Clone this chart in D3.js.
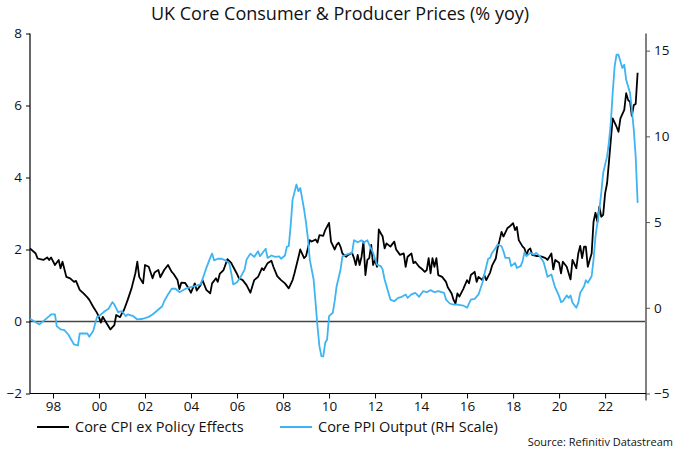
<!DOCTYPE html>
<html>
<head>
<meta charset="utf-8">
<script src="https://cdn.jsdelivr.net/npm/d3@7"></script>
<style>
  html, body { margin: 0; padding: 0; background: #fff; }
  svg { display: block; }
  text { font-family: "Open Sans", "DejaVu Sans", sans-serif; }
</style>
</head>
<body>
<svg id="chart" width="680" height="453"></svg>
<script>
const title = "UK Core Consumer & Producer Prices (% yoy)";
const seriesNames = ["Core CPI ex Policy Effects", "Core PPI Output (RH Scale)"];
const sourceText = "Source: Refinitiv Datastream";

const leftTicks = [-2, 0, 2, 4, 6, 8];
const rightTicks = [-5, 0, 5, 10, 15];
const xTickYears = [1998, 2000, 2002, 2004, 2006, 2008, 2010, 2012, 2014, 2016, 2018, 2020, 2022];
const xTickLabels = ["98", "00", "02", "04", "06", "08", "10", "12", "14", "16", "18", "20", "22"];

const cpiDates = ["1997-01","1997-04","1997-05","1997-08","1997-10","1997-11","1997-12","1998-02","1998-04","1998-05","1998-06","1998-08","1998-10","1998-12","1999-01","1999-03","1999-05","1999-07","1999-08","1999-10","1999-12","2000-01","2000-02","2000-03","2000-05","2000-07","2000-09","2000-10","2000-12","2001-01","2001-02","2001-04","2001-06","2001-08","2001-09","2001-10","2001-12","2002-01","2002-03","2002-05","2002-06","2002-08","2002-09","2002-11","2003-01","2003-03","2003-04","2003-06","2003-07","2003-08","2003-10","2003-12","2004-01","2004-03","2004-04","2004-06","2004-07","2004-09","2004-11","2004-12","2005-02","2005-03","2005-04","2005-06","2005-08","2005-10","2005-11","2006-01","2006-02","2006-04","2006-06","2006-08","2006-10","2006-12","2007-02","2007-03","2007-05","2007-07","2007-08","2007-10","2007-12","2008-02","2008-04","2008-06","2008-07","2008-09","2008-10","2008-12","2009-01","2009-03","2009-04","2009-06","2009-07","2009-08","2009-10","2009-11","2010-01","2010-02","2010-04","2010-05","2010-06","2010-07","2010-08","2010-10","2010-11","2011-01","2011-02","2011-03","2011-04","2011-05","2011-06","2011-07","2011-08","2011-09","2011-10","2011-11","2011-12","2012-01","2012-02","2012-03","2012-04","2012-05","2012-06","2012-07","2012-09","2012-11","2012-12","2013-02","2013-04","2013-05","2013-06","2013-08","2013-09","2013-10","2013-12","2014-01","2014-02","2014-03","2014-04","2014-05","2014-06","2014-07","2014-08","2014-09","2014-10","2014-12","2015-02","2015-03","2015-05","2015-06","2015-07","2015-08","2015-09","2015-11","2016-01","2016-02","2016-03","2016-05","2016-06","2016-07","2016-09","2016-10","2016-11","2017-01","2017-02","2017-04","2017-05","2017-06","2017-07","2017-08","2017-10","2017-11","2018-01","2018-02","2018-03","2018-04","2018-06","2018-07","2018-08","2018-09","2018-10","2018-11","2019-01","2019-02","2019-04","2019-06","2019-07","2019-09","2019-10","2019-11","2020-01","2020-02","2020-03","2020-05","2020-06","2020-07","2020-08","2020-10","2020-11","2020-12","2021-01","2021-02","2021-03","2021-04","2021-05","2021-06","2021-07","2021-08","2021-09","2021-10","2021-11","2021-12","2022-01","2022-02","2022-03","2022-04","2022-05","2022-07","2022-08","2022-09","2022-11","2022-12","2023-01","2023-02","2023-03","2023-04","2023-05","2023-06"];
const cpiValues = [2.03,1.89,1.75,1.71,1.78,1.71,1.78,1.57,1.71,1.48,1.66,1.24,1.2,1.1,1.13,0.88,0.78,0.67,0.6,0.41,0.24,0.12,-0.03,0.13,-0.05,-0.22,-0.1,0.18,0.12,0.23,0.32,0.6,0.92,1.34,1.66,1.24,1.06,1.57,1.52,1.2,1.36,1.43,1.23,1.43,1.57,1.38,1.32,1.15,0.9,1.08,1.07,0.9,0.8,1.06,0.86,1.01,1.15,0.88,0.78,1.06,1.2,1.1,1.32,1.43,1.73,1.63,1.52,1.32,1.2,1.15,1.01,0.8,1.15,1.24,1.48,1.43,1.62,1.69,1.52,1.26,1.15,1.06,0.92,1.15,1.34,1.78,2.0,1.76,1.82,2.26,2.22,2.28,2.19,2.4,2.38,2.54,2.74,2.22,2.0,2.13,2.19,2.08,1.89,1.8,1.85,1.91,1.76,1.57,1.85,1.57,1.8,2.22,1.29,1.71,1.76,2.13,1.57,1.71,1.52,2.56,2.45,2.36,2.03,2.17,2.08,2.22,2.0,1.85,1.89,1.52,1.8,1.89,1.62,1.66,1.52,1.48,1.43,1.38,1.43,1.76,1.34,1.76,1.52,1.76,1.29,1.24,1.1,0.95,0.78,0.6,0.5,0.78,0.69,0.9,1.15,1.06,1.29,1.38,1.1,1.24,1.15,1.29,1.15,1.36,1.55,1.75,2.05,2.26,2.49,2.36,2.59,2.63,2.73,2.54,2.63,2.26,2.08,2.03,1.85,1.99,2.03,1.85,1.82,1.82,1.8,1.76,1.71,1.89,1.45,1.71,1.63,1.34,1.66,1.52,1.34,1.17,1.71,1.48,1.89,2.1,1.76,2.08,2.08,1.52,1.71,1.89,2.77,3.02,2.77,3.19,2.91,2.96,3.56,3.84,4.4,5.04,5.64,5.41,5.27,5.64,5.88,6.34,6.15,6.1,5.71,6.01,6.04,6.91];

const ppiDates = ["1997-01","1997-04","1997-06","1997-08","1997-11","1997-12","1998-02","1998-03","1998-05","1998-07","1998-09","1998-11","1998-12","1999-02","1999-03","1999-05","1999-07","1999-08","1999-10","1999-12","2000-01","2000-04","2000-06","2000-08","2000-09","2000-11","2001-01","2001-03","2001-04","2001-07","2001-09","2001-12","2002-03","2002-05","2002-07","2002-10","2002-11","2003-01","2003-03","2003-05","2003-07","2003-10","2003-12","2004-03","2004-06","2004-07","2004-09","2004-11","2004-12","2005-01","2005-03","2005-05","2005-07","2005-09","2005-10","2005-11","2006-01","2006-03","2006-05","2006-06","2006-08","2006-10","2006-12","2007-01","2007-03","2007-04","2007-05","2007-07","2007-09","2007-11","2007-12","2008-02","2008-03","2008-04","2008-05","2008-06","2008-08","2008-09","2008-10","2008-12","2009-01","2009-02","2009-03","2009-05","2009-06","2009-07","2009-08","2009-09","2009-10","2009-11","2009-12","2010-01","2010-03","2010-04","2010-05","2010-07","2010-08","2010-10","2011-01","2011-02","2011-04","2011-06","2011-07","2011-09","2011-10","2011-12","2012-02","2012-04","2012-05","2012-06","2012-08","2012-09","2012-11","2013-01","2013-03","2013-05","2013-06","2013-08","2013-10","2013-12","2014-02","2014-04","2014-06","2014-08","2014-10","2015-01","2015-02","2015-04","2015-06","2015-08","2015-11","2016-01","2016-03","2016-05","2016-07","2016-09","2016-10","2016-12","2017-01","2017-02","2017-04","2017-05","2017-07","2017-08","2017-09","2017-11","2017-12","2018-02","2018-03","2018-05","2018-06","2018-07","2018-08","2018-10","2018-12","2019-01","2019-03","2019-05","2019-06","2019-07","2019-09","2019-10","2019-11","2020-01","2020-02","2020-03","2020-05","2020-06","2020-07","2020-08","2020-10","2020-11","2020-12","2021-02","2021-03","2021-04","2021-06","2021-07","2021-08","2021-10","2021-11","2021-12","2022-02","2022-03","2022-04","2022-05","2022-06","2022-07","2022-08","2022-09","2022-10","2022-11","2022-12","2023-02","2023-03","2023-04","2023-05","2023-06"];
const ppiValues = [-0.64,-0.84,-0.97,-0.78,-0.49,-0.39,-0.39,-1.07,-1.26,-1.3,-1.56,-1.95,-2.14,-2.2,-1.5,-1.5,-1.5,-1.69,-1.36,-0.53,-0.49,-0.2,-0.06,0.33,0.19,-0.26,-0.2,-0.49,-0.39,-0.49,-0.68,-0.64,-0.53,-0.39,-0.2,0.09,0.38,0.78,1.11,1.11,0.91,1.1,1.17,1.26,1.36,1.65,2.33,2.91,3.16,2.77,2.86,2.86,2.77,2.58,2.04,1.36,1.49,1.81,2.23,2.81,3.16,2.97,3.3,3.01,3.3,3.44,2.91,3.05,2.97,3.0,2.86,3.05,3.55,3.6,4.76,6.31,7.19,6.8,6.99,5.73,4.95,3.98,2.81,1.65,0.29,-1.07,-2.24,-2.82,-2.84,-2.04,-1.85,-0.49,-0.29,0.4,1.26,2.2,3.0,3.1,3.2,3.94,3.82,3.94,3.79,3.94,3.69,3.2,2.52,2.43,2.23,1.65,0.87,0.48,0.38,0.58,0.64,0.78,0.58,0.78,0.87,0.64,0.97,0.91,1.03,0.91,0.97,0.87,0.48,0.25,0.19,0.19,0.13,0.0,0.48,0.52,0.78,1.46,1.94,2.86,2.91,3.2,3.5,3.69,3.59,3.3,2.91,2.91,2.43,2.62,2.33,2.43,2.72,3.24,3.01,3.2,3.1,3.2,3.01,2.66,2.23,1.81,1.94,1.55,1.17,0.68,0.33,0.38,0.72,0.58,0.72,0.29,0.0,0.29,0.87,1.26,1.61,1.46,1.84,2.81,4.17,5.73,6.7,7.87,8.83,9.62,10.78,12.53,14.08,14.76,14.76,14.37,13.99,14.18,13.3,12.53,11.56,10.39,8.83,6.12];

const parse = d3.timeParse("%Y-%m");
const cpi = cpiDates.map((d, i) => ({ date: parse(d), value: cpiValues[i] }));
const ppi = ppiDates.map((d, i) => ({ date: parse(d), value: ppiValues[i] }));

const colors = { cpi: "#000000", ppi: "#3fb4f2" };

const svg = d3.select("#chart");
const plot = { left: 30, right: 646, top: 33.5, bottom: 393.5 };

const x = d3.scaleTime()
  .domain([new Date(1997, 0, 1), new Date(2023, 9, 12)])
  .range([plot.left, plot.right]);
const yL = d3.scaleLinear().domain([-2, 8]).range([plot.bottom, plot.top]);
const yR = d3.scaleLinear().domain([-5, 16]).range([plot.bottom, plot.top]);

// Title
svg.append("text")
  .attr("x", 340).attr("y", 19.5)
  .attr("text-anchor", "middle")
  .attr("font-size", 18)
  .attr("fill", "#111")
  .text(title);

// Zero line
svg.append("line")
  .attr("x1", plot.left).attr("x2", plot.right)
  .attr("y1", yL(0)).attr("y2", yL(0))
  .attr("stroke", "#444").attr("stroke-width", 1.3);

// Left axis
const leftAxis = svg.append("g")
  .attr("transform", `translate(${plot.left},0)`)
  .call(d3.axisLeft(yL).tickValues(leftTicks).tickSize(4).tickPadding(4).tickFormat(d3.format("d")));
leftAxis.select(".domain").attr("d", `M0,${plot.top}V${plot.bottom}`).attr("stroke", "#000").attr("stroke-width", 1.2);
leftAxis.selectAll(".tick line").attr("stroke", "#000");
leftAxis.selectAll("text").attr("font-size", 13.5).attr("fill", "#111");

// Right axis
const rightAxis = svg.append("g")
  .attr("transform", `translate(${plot.right},0)`)
  .call(d3.axisRight(yR).tickValues(rightTicks).tickSize(4).tickPadding(4).tickFormat(d3.format("d")));
rightAxis.select(".domain").attr("d", `M0,${plot.top}V${plot.bottom + 7}`).attr("stroke", "#808080").attr("stroke-width", 2);
rightAxis.selectAll(".tick line").attr("stroke", "#555");
rightAxis.selectAll("text").attr("font-size", 13.5).attr("fill", "#111");

// Bottom axis
const bottomAxis = svg.append("g")
  .attr("transform", `translate(0,${plot.bottom})`)
  .call(d3.axisBottom(x)
    .tickValues(xTickYears.map(y => new Date(y, 0, 1)))
    .tickFormat((d, i) => xTickLabels[i])
    .tickSize(5).tickPadding(3));
bottomAxis.select(".domain").attr("d", `M${plot.left},0H${plot.right}`).attr("stroke", "#000").attr("stroke-width", 1.2);
bottomAxis.selectAll(".tick line").attr("stroke", "#000");
bottomAxis.selectAll("text").attr("font-size", 13.5).attr("fill", "#111");

// Lines
const lineL = d3.line().x(d => x(d.date)).y(d => yL(d.value));
const lineR = d3.line().x(d => x(d.date)).y(d => yR(d.value));

svg.append("path").datum(cpi)
  .attr("d", lineL).attr("fill", "none")
  .attr("stroke", colors.cpi).attr("stroke-width", 1.8).attr("stroke-linejoin", "round");
svg.append("path").datum(ppi)
  .attr("d", lineR).attr("fill", "none")
  .attr("stroke", colors.ppi).attr("stroke-width", 1.8).attr("stroke-linejoin", "round");

// Legend
const legend = [
  { name: seriesNames[0], color: colors.cpi, x: 37 },
  { name: seriesNames[1], color: colors.ppi, x: 280 }
];
const lg = svg.append("g");
legend.forEach(l => {
  lg.append("line").attr("x1", l.x).attr("x2", l.x + 32)
    .attr("y1", 427).attr("y2", 427)
    .attr("stroke", l.color).attr("stroke-width", 2);
  lg.append("text").attr("x", l.x + 38).attr("y", 431.5)
    .attr("font-size", 14.5).attr("fill", "#111").text(l.name);
});

// Source
svg.append("text")
  .attr("x", 673).attr("y", 446)
  .attr("text-anchor", "end")
  .attr("font-size", 11).attr("fill", "#111")
  .text(sourceText);
</script>
</body>
</html>
